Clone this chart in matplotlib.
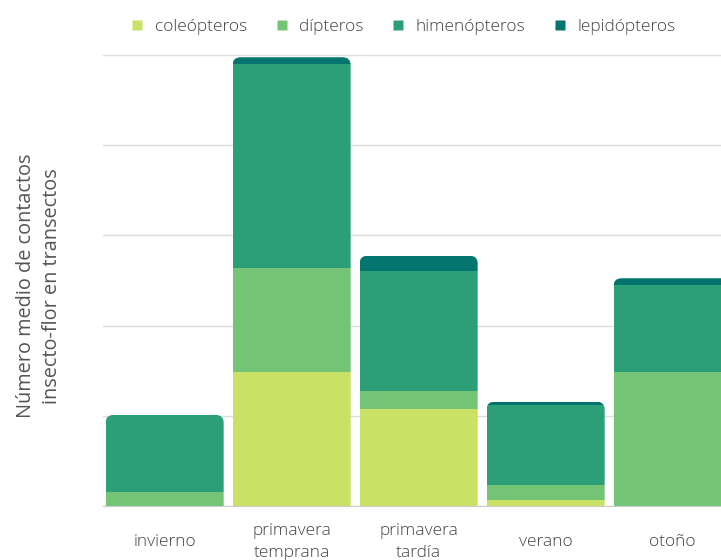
import matplotlib
matplotlib.use("Agg")
import matplotlib.pyplot as plt
from matplotlib.patches import FancyBboxPatch
from matplotlib.lines import Line2D
import numpy as np

plt.rcParams['font.family'] = ['Open Sans', 'DejaVu Sans']
plt.rcParams['font.weight'] = 'light'

# Mean number of insect-flower contacts per season, by insect order
estaciones = ["invierno", "primavera\ntemprana", "primavera\ntardía", "verano", "otoño"]
ordenes = ["coleópteros", "dípteros", "himenópteros", "lepidópteros"]
coleopteros = [0.0, 1.49, 1.08, 0.07, 0.0]
dipteros = [0.155, 1.15, 0.20, 0.165, 1.485]
himenopteros = [0.855, 2.26, 1.33, 0.885, 0.965]
lepidopteros = [0.0, 0.075, 0.165, 0.037, 0.075]
colores = ["#c9e265", "#74c476", "#2c9f78", "#03756e"]

series = [coleopteros, dipteros, himenopteros, lepidopteros]

fig = plt.figure(figsize=(7.21, 5.6), dpi=100)
ax = fig.add_axes([0.1429, 0.0964, 0.8807, 0.8054])

x = np.arange(len(estaciones))
ancho = 0.93
ax.set_xlim(-0.485, 4.515)
ax.set_ylim(0, 5)

# rounded top corners: radius in x data units, vertical scaled by aspect
px_x = 0.8807 * 721 / 5.0
px_y = 0.8054 * 560 / 5.0
radio = 8 / px_x
aspecto = px_x / px_y

for i, xi in enumerate(x):
    total = sum(s[i] for s in series)
    clip = FancyBboxPatch((xi - ancho / 2, -1), ancho, total + 1,
                          boxstyle=f"round,pad=0,rounding_size={radio}",
                          mutation_aspect=aspecto, transform=ax.transData)
    base = 0.0
    for s, c in zip(series, colores):
        if s[i] > 0:
            r = ax.bar(xi, s[i], width=ancho, bottom=base, color=c,
                       edgecolor="none", zorder=3)
            for p in r:
                p.set_clip_path(clip)
        base += s[i]

ax.set_yticks(np.arange(0, 6, 1))
ax.set_yticklabels([])
ax.tick_params(axis="y", length=0)
ax.grid(axis="y", color="#dddddd", linewidth=1, zorder=0)
ax.set_axisbelow(True)
for sp in ["top", "right", "left"]:
    ax.spines[sp].set_visible(False)
ax.spines["bottom"].set_color("#cccccc")
ax.spines["bottom"].set_zorder(4)

ax.set_xticks(x)
ax.set_xticklabels(estaciones, fontsize=12.5, color="#444444", linespacing=1.55)
for lab in ax.get_xticklabels():
    lab.set_verticalalignment("center")
ax.tick_params(axis="x", length=0, pad=26)

ax.set_ylabel("Número medio de contactos\ninsecto-flor en transectos",
              fontsize=14.3, color="#555555", linespacing=1.4, labelpad=26)
ax.yaxis.label.set_y(0.488)

handles = [Line2D([0], [0], marker="s", linestyle="none", markersize=7,
                  markerfacecolor=c, markeredgecolor="none") for c in colores]
fig.legend(handles, ordenes, loc="upper center", bbox_to_anchor=(0.558, 0.995),
           ncol=4, frameon=False, fontsize=12.5, labelcolor="#444444",
           handletextpad=0.5, columnspacing=1.5, handlelength=1.0)

fig.savefig("out.png", dpi=100)
